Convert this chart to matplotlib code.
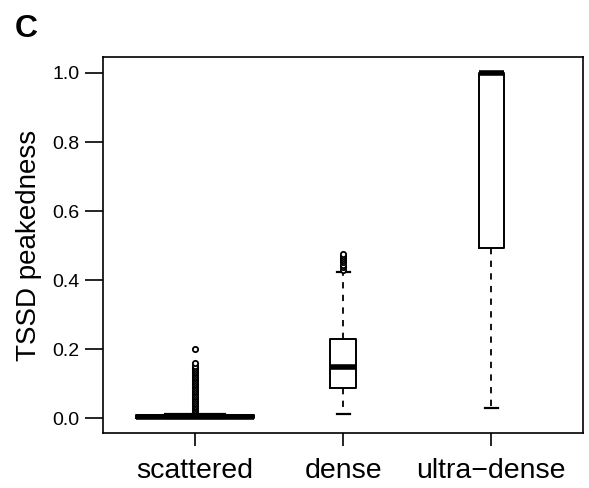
import matplotlib
matplotlib.use("Agg")
import matplotlib.pyplot as plt

plt.rcParams['font.family'] = ['Liberation Sans', 'DejaVu Sans']

# groups and box statistics
groups = ["scattered", "dense", "ultra\u2212dense"]
q1 = [0.0, 0.087, 0.493]
med = [0.004, 0.147, 1.0]
q3 = [0.008, 0.229, 1.0]
wlo = [0.0, 0.012, 0.030]
whi = [0.011, 0.422, 1.0]
widths = [0.80, 0.175, 0.17]

# outliers
out_scattered = [0.016, 0.020, 0.024, 0.028, 0.032, 0.036, 0.040, 0.045, 0.050, 0.055,
                 0.060, 0.065, 0.070, 0.075, 0.080, 0.085, 0.090, 0.095, 0.100, 0.105,
                 0.110, 0.115, 0.120, 0.125, 0.130, 0.135, 0.140, 0.145, 0.150, 0.160,
                 0.200]
out_dense = [0.430, 0.438, 0.445, 0.452, 0.458, 0.464, 0.470, 0.476]
out_ultra = []
outliers = [out_scattered, out_dense, out_ultra]

stats = []
for i in range(len(groups)):
    stats.append({"q1": q1[i], "med": med[i], "q3": q3[i],
                  "whislo": wlo[i], "whishi": whi[i], "fliers": outliers[i],
                  "label": groups[i]})

fig = plt.figure(figsize=(5.89, 4.88), dpi=100)
ax = fig.add_axes([0.175, 0.1127, 0.815, 0.7703])

ax.bxp(stats, positions=[1, 2, 3], widths=widths,
       boxprops=dict(color="black", linewidth=1.4),
       medianprops=dict(color="black", linewidth=4, solid_capstyle="butt"),
       whiskerprops=dict(color="black", linewidth=1.3, linestyle=(0, (3.5, 3.5))),
       capprops=dict(color="black", linewidth=1.6),
       capwidths=[w * 0.5 for w in widths],
       flierprops=dict(marker="o", markersize=3.8, markerfacecolor="white",
                       markeredgecolor="black", markeredgewidth=1.3))

ax.set_xlim(0.38, 3.62)
ax.set_ylim(-0.043, 1.046)
ax.set_yticks([0.0, 0.2, 0.4, 0.6, 0.8, 1.0])
ax.set_yticklabels(["0.0", "0.2", "0.4", "0.6", "0.8", "1.0"], fontsize=14)
ax.set_xticks([1, 2, 3])
ax.set_xticklabels(groups, fontsize=20.5)
ax.tick_params(axis="y", length=13, width=1.2, pad=4)
ax.tick_params(axis="x", length=9, width=1.2, pad=9)
for s in ax.spines.values():
    s.set_linewidth(1.2)

ax.set_ylabel("TSSD peakedness", fontsize=20, labelpad=7)
fig.text(0.025, 0.925, "C", fontsize=23, fontweight="bold", ha="left", va="baseline")

fig.savefig("out.png", dpi=100)
